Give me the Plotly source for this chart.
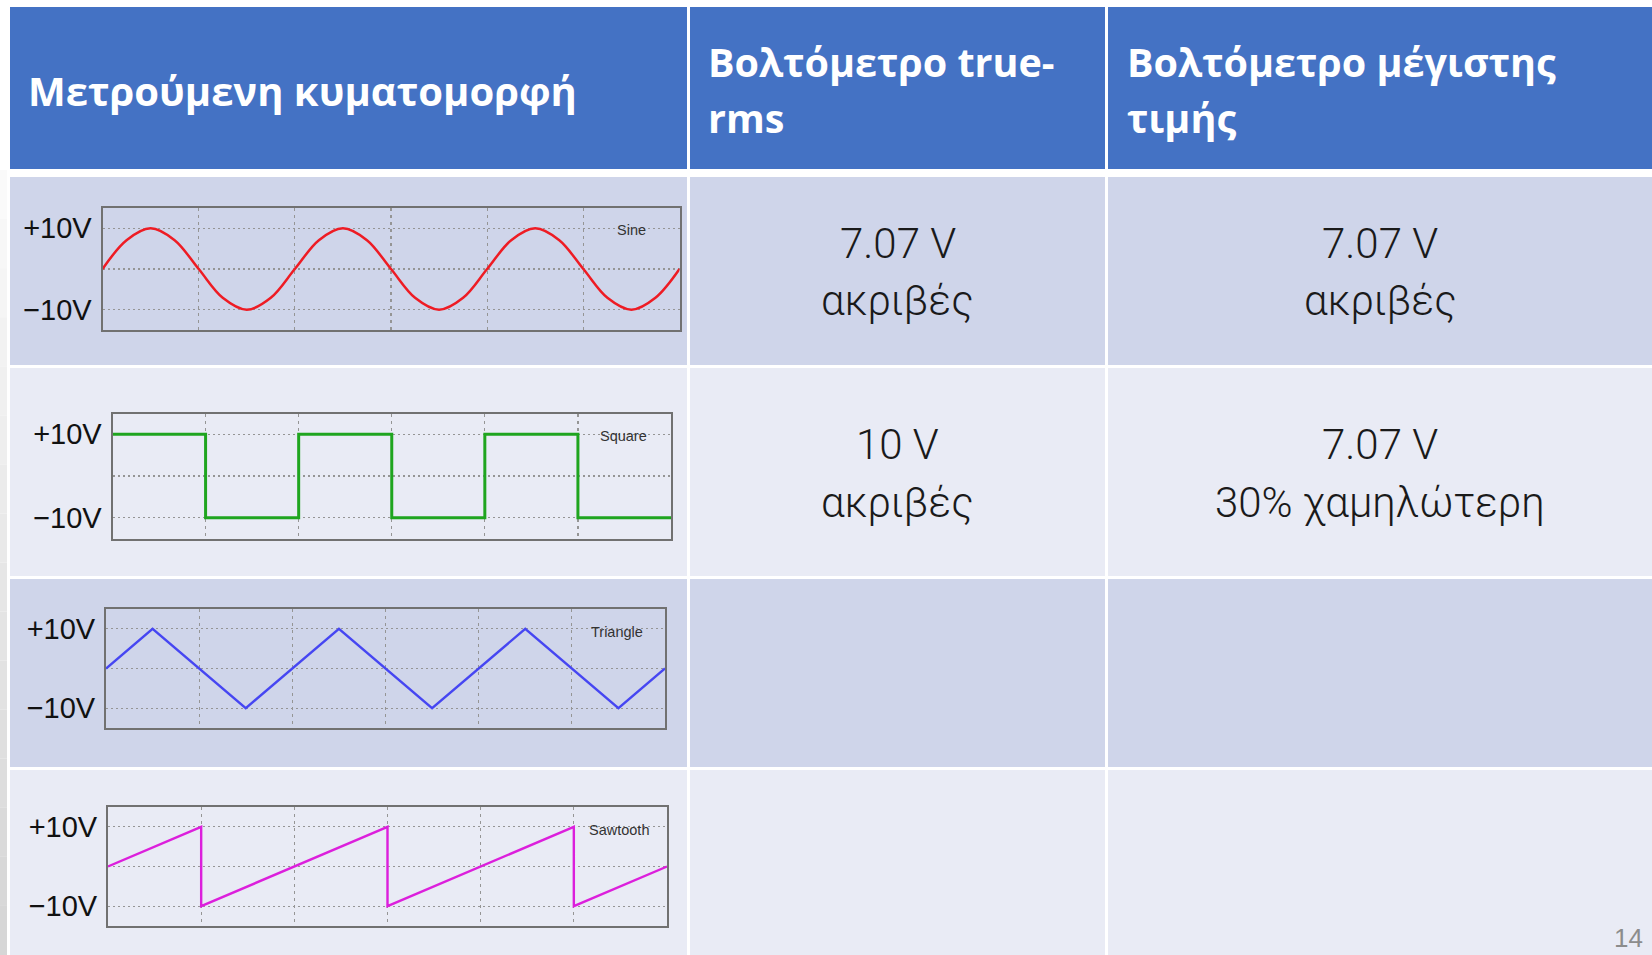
import plotly.graph_objects as go

W, H = 1652, 955

# ---------------- data ----------------
waveforms = ["Sine", "Square", "Triangle", "Sawtooth"]

sine_t = [0, 0.125, 0.25, 0.375, 0.5, 0.625, 0.75, 0.875,
          1.0, 1.125, 1.25, 1.375, 1.5, 1.625, 1.75, 1.875,
          2.0, 2.125, 2.25, 2.375, 2.5, 2.625, 2.75, 2.875, 3.0]
sine_v = [0, 7.07, 10, 7.07, 0, -7.07, -10, -7.07,
          0, 7.07, 10, 7.07, 0, -7.07, -10, -7.07,
          0, 7.07, 10, 7.07, 0, -7.07, -10, -7.07, 0]

square_t = [0, 0.5, 1.0, 1.5, 2.0, 2.5, 3.0]
square_v = [10, -10, 10, -10, 10, -10, -10]

triangle_t = [0, 0.25, 0.75, 1.25, 1.75, 2.25, 2.75, 3.0]
triangle_v = [0, 10, -10, 10, -10, 10, -10, 0]

sawtooth_t = [0, 0.5, 0.5, 1.5, 1.5, 2.5, 2.5, 3.0]
sawtooth_v = [0, 10, -10, 10, -10, 10, -10, 0]

y_tickvals = [-10, 0, 10]
y_ticktext = ["\u221210V", "", "+10V"]
x_gridvals = [0.5, 1.0, 1.5, 2.0, 2.5]

header_col1 = ["Μετρούμενη κυματομορφή"]
header_col2 = ["Βολτόμετρο true-", "rms"]
header_col3 = ["Βολτόμετρο μέγιστης", "τιμής"]

trms_line1 = ["7.07 V", "10 V", "", ""]
trms_line2 = ["ακριβές", "ακριβές", "", ""]
peak_line1 = ["7.07 V", "7.07 V", "", ""]
peak_line2 = ["ακριβές", "30% χαμηλώτερη", "", ""]

page_number = "14"

# ---------------- styles / geometry ----------------
line_colors = ["#ee1c24", "#1fa51f", "#4646f2", "#dc1fdc"]
line_widths = [2.5, 3, 2.4, 2.4]
line_shapes = ["spline", "hv", "linear", "linear"]
series = [(sine_t, sine_v), (square_t, square_v),
          (triangle_t, triangle_v), (sawtooth_t, sawtooth_v)]

# chart boxes in pixels (x0, x1, y0_top, y1_bottom)
boxes = [(102.5, 679.5, 208, 330),
         (112.5, 671, 413.5, 538.5),
         (106, 665, 609, 728),
         (108, 667, 807, 926)]

cols = [(10, 687), (690, 1105), (1108, 1652)]
header_rows = (7, 169)
body_rows = [(177, 365), (368, 576), (579, 767), (770, 955)]
row_colors = ["#CFD5EA", "#E9EBF5", "#CFD5EA", "#E9EBF5"]
header_color = "#4472C4"


def fx(px):
    return px / W


def fy(py):
    return 1 - py / H


fig = go.Figure()

shapes = []
# left strip gradient (slide background)
n_bands = 16
for i in range(n_bands):
    y0 = 170 + i * (955 - 170) / n_bands
    y1 = 170 + (i + 1) * (955 - 170) / n_bands
    g = int(250 - 36 * i / (n_bands - 1))
    shapes.append(dict(type="rect", xref="paper", yref="paper",
                       x0=0, x1=fx(7), y0=fy(y1), y1=fy(y0),
                       fillcolor=f"rgb({g},{g},{g})", line_width=0, layer="below"))

# header cells
for (c0, c1) in cols:
    shapes.append(dict(type="rect", xref="paper", yref="paper",
                       x0=fx(c0), x1=fx(c1), y0=fy(header_rows[1]), y1=fy(header_rows[0]),
                       fillcolor=header_color, line_width=0, layer="below"))
# body cells
for (r0, r1), rc in zip(body_rows, row_colors):
    for (c0, c1) in cols:
        shapes.append(dict(type="rect", xref="paper", yref="paper",
                           x0=fx(c0), x1=fx(c1), y0=fy(r1), y1=fy(r0),
                           fillcolor=rc, line_width=0, layer="below"))

annotations = []
HEAD_FONT = "Open Sans, Noto Sans, sans-serif"
BODY_FONT = "Roboto, sans-serif"


def text_at(txt, x, baseline, size, family, color, xanchor="left", weight="normal", asc=0.905, desc=0.212):
    mid = baseline - (asc - desc) / 2 * size
    annotations.append(dict(text=txt, xref="paper", yref="paper", x=fx(x), y=fy(mid),
                            xanchor=xanchor, yanchor="middle", showarrow=False,
                            font=dict(family=family, size=size, color=color, weight=weight)))


# header texts (Open Sans metrics asc 1.069 desc 0.293)
text_at(header_col1[0], 26, 106, 40, HEAD_FONT, "white", weight="bold", asc=1.069, desc=0.293)
for i, t in enumerate(header_col2):
    text_at(t, 706, 77 + 56 * i, 39.5, HEAD_FONT, "white", weight="bold", asc=1.069, desc=0.293)
for i, t in enumerate(header_col3):
    text_at(t, 1125, 77 + 56 * i, 39.5, HEAD_FONT, "white", weight="bold", asc=1.069, desc=0.293)

# body texts
body_baselines = [(258, 315), (459, 517), (650, 708), (840, 898)]
c2 = (cols[1][0] + cols[1][1]) / 2
c3 = (cols[2][0] + cols[2][1]) / 2
for r in range(4):
    b1, b2 = body_baselines[r]
    if trms_line1[r]:
        text_at(trms_line1[r], c2, b1, 42, BODY_FONT, "#1a1a1a", xanchor="center", weight=300)
    if trms_line2[r]:
        text_at(trms_line2[r], c2, b2, 42, BODY_FONT, "#1a1a1a", xanchor="center", weight=300)
    if peak_line1[r]:
        text_at(peak_line1[r], c3, b1, 42, BODY_FONT, "#1a1a1a", xanchor="center", weight=300)
    if peak_line2[r]:
        text_at(peak_line2[r], c3, b2, 42, BODY_FONT, "#1a1a1a", xanchor="center", weight=300)

# page number
text_at(page_number, 1628, 947, 26, "Liberation Sans, Arial", "#8c8c8c", xanchor="center")

# waveform labels
for i, (name, (bx0, bx1, by0, by1)) in enumerate(zip(waveforms, boxes)):
    annotations.append(dict(text=name, xref="paper", yref="paper",
                            x=fx(bx1 - 48), y=fy(by0 + 22.5),
                            xanchor="center", yanchor="middle", showarrow=False,
                            font=dict(family="Liberation Sans, Arial", size=14.5, color="#333333")))

layout = dict(width=W, height=H, autosize=False,
              margin=dict(l=0, r=0, t=0, b=0, pad=0),
              paper_bgcolor="white", plot_bgcolor="rgba(0,0,0,0)",
              showlegend=False, shapes=shapes, annotations=annotations)

for i, ((t, v), (bx0, bx1, by0, by1)) in enumerate(zip(series, boxes)):
    k = "" if i == 0 else str(i + 1)
    fig.add_trace(go.Scatter(x=t, y=v, mode="lines",
                             line=dict(color=line_colors[i], width=line_widths[i],
                                       shape=line_shapes[i], smoothing=1.0),
                             xaxis="x" + k, yaxis="y" + k, hoverinfo="skip",
                             name=waveforms[i]))
    layout["xaxis" + k] = dict(domain=[fx(bx0), fx(bx1)], range=[0, 3], anchor="y" + k,
                               tickvals=x_gridvals, showticklabels=False, ticks="",
                               showgrid=True, gridcolor="#959595", gridwidth=1.2, griddash="3px,4px",
                               zeroline=False, showline=True, mirror=True,
                               linecolor="#717171", linewidth=2, fixedrange=True)
    layout["yaxis" + k] = dict(domain=[fy(by1), fy(by0)], range=[-15, 15], anchor="x" + k,
                               tickvals=y_tickvals, ticktext=y_ticktext, ticks="",
                               tickfont=dict(family="Liberation Sans, Arial", size=29, color="#111111"),
                               ticklabelstandoff=3,
                               showgrid=True, gridcolor="#959595", gridwidth=1.2, griddash="2px,3px",
                               zeroline=False, showline=True, mirror=True,
                               linecolor="#717171", linewidth=2, fixedrange=True)

fig.update_layout(**layout)

fig.write_html("out.html", config=dict(displayModeBar=False, staticPlot=True),
               post_script="document.body.style.margin='0';document.body.style.overflow='hidden';")
